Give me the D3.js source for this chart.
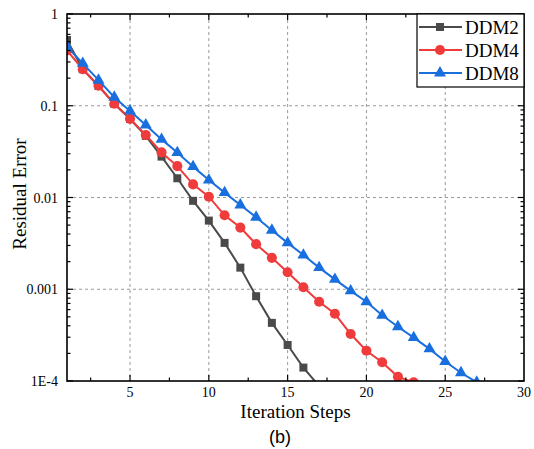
<!DOCTYPE html>
<html>
<head>
<meta charset="utf-8">
<script src="https://cdn.jsdelivr.net/npm/d3@7"></script>
<style>
  html, body { margin: 0; padding: 0; background: #fff; }
  svg { display: block; }
  text { font-family: "Liberation Serif", "Times New Roman", serif; fill: #000; }
</style>
</head>
<body>
<svg id="chart" width="534" height="449"></svg>
<script>
// Iteration steps
const steps = d3.range(1, 28);

// Residual error per iteration for each decomposition
const ddm2 = [0.52, 0.25, 0.164, 0.105, 0.0717, 0.047, 0.0279, 0.0162, 0.0092, 0.0056,
              0.0032, 0.00172, 0.00084, 0.00043, 0.000247, 0.00014, 0.000088];
const ddm4 = [0.40, 0.25, 0.165, 0.105, 0.072, 0.048, 0.031, 0.022, 0.0139, 0.0102,
              0.0064, 0.0047, 0.0031, 0.0022, 0.00153, 0.00105, 0.00073, 0.00054,
              0.000325, 0.000214, 0.00016, 0.000111, 0.000097];
const ddm8 = [0.44, 0.29, 0.19, 0.124, 0.0877, 0.0617, 0.043, 0.0309, 0.0217, 0.0155,
              0.0113, 0.0083, 0.0061, 0.0044, 0.0032, 0.00236, 0.00172, 0.00128,
              0.00096, 0.00073, 0.00052, 0.00039, 0.000297, 0.000224, 0.000163,
              0.000123, 0.000097];

const seriesNames = ["DDM2", "DDM4", "DDM8"];
const seriesColors = ["#4a4a4a", "#ef3b3b", "#1a6fdf"];
const seriesShapes = [d3.symbolSquare, d3.symbolCircle, d3.symbolTriangle];

const xTicks = [5, 10, 15, 20, 25, 30];
const xMinor = [2.5, 7.5, 12.5, 17.5, 22.5, 27.5];
const yTicks = [1e-4, 1e-3, 1e-2, 1e-1, 1];
const yTickLabels = ["1E-4", "0.001", "0.01", "0.1", "1"];

const svg = d3.select("#chart");
const pLeft = 67, pRight = 524, pTop = 14, pBottom = 381;

const x = d3.scaleLinear().domain([1, 30]).range([pLeft, pRight]);
const y = d3.scaleLog().domain([1e-4, 1]).range([pBottom, pTop]);

// Minor log ticks: 2..9 within each decade
const yMinor = [];
for (let e = -4; e < 0; e++) for (let m = 2; m <= 9; m++) yMinor.push(m * Math.pow(10, e));

// Dashed grid at major ticks
const grid = svg.append("g");
grid.selectAll(null).data(xTicks.filter(v => v < 30)).join("line")
  .attr("x1", d => x(d)).attr("x2", d => x(d))
  .attr("y1", pTop).attr("y2", pBottom)
  .attr("stroke", "#9a9a9a").attr("stroke-width", 1).attr("stroke-dasharray", "3,3");
grid.selectAll(null).data(yTicks.filter(v => v > 1e-4 && v < 1)).join("line")
  .attr("x1", pLeft).attr("x2", pRight)
  .attr("y1", d => y(d)).attr("y2", d => y(d))
  .attr("stroke", "#9a9a9a").attr("stroke-width", 1).attr("stroke-dasharray", "3,3");

// Series
svg.append("clipPath").attr("id", "plotClip")
  .append("rect").attr("x", pLeft).attr("y", pTop)
  .attr("width", pRight - pLeft).attr("height", pBottom - pTop);

const plot = svg.append("g").attr("clip-path", "url(#plotClip)");
const allSeries = [ddm2, ddm4, ddm8];
const line = d3.line().x(d => x(d.s)).y(d => y(d.v));
const symbolSizes = [64, 80, 62];

allSeries.forEach((vals, i) => {
  const pts = vals.map((v, k) => ({ s: steps[k], v }));
  plot.append("path").datum(pts)
    .attr("d", line).attr("fill", "none")
    .attr("stroke", seriesColors[i]).attr("stroke-width", 2);
  plot.selectAll(null).data(pts).join("path")
    .attr("transform", d => `translate(${x(d.s)},${y(d.v)})`)
    .attr("d", d3.symbol().type(seriesShapes[i]).size(symbolSizes[i]))
    .attr("fill", seriesColors[i]);
});

// Axes with inward ticks on all four sides
const axes = svg.append("g").attr("stroke", "#000");
const major = 6, minor = 3.5;
function tickLines(data, fn) {
  axes.selectAll(null).data(data).join("line").each(function (d) {
    const c = fn(d);
    d3.select(this).attr("x1", c[0]).attr("y1", c[1]).attr("x2", c[2]).attr("y2", c[3]);
  }).attr("stroke-width", 1.2);
}
tickLines(xTicks.filter(v => v < 30), d => [x(d), pBottom, x(d), pBottom - major]);
tickLines(xMinor, d => [x(d), pBottom, x(d), pBottom - minor]);
tickLines(xTicks.filter(v => v < 30), d => [x(d), pTop, x(d), pTop + major]);
tickLines(xMinor, d => [x(d), pTop, x(d), pTop + minor]);
tickLines(yTicks, d => [pLeft, y(d), pLeft + major, y(d)]);
tickLines(yMinor, d => [pLeft, y(d), pLeft + minor, y(d)]);
tickLines(yTicks, d => [pRight, y(d), pRight - major, y(d)]);
tickLines(yMinor, d => [pRight, y(d), pRight - minor, y(d)]);

axes.append("rect").attr("x", pLeft).attr("y", pTop)
  .attr("width", pRight - pLeft).attr("height", pBottom - pTop)
  .attr("fill", "none").attr("stroke-width", 1.6);

// Tick labels
svg.append("g").selectAll("text").data(xTicks).join("text")
  .attr("x", d => x(d)).attr("y", 397).attr("text-anchor", "middle")
  .attr("font-size", 14).text(d => d);
svg.append("g").selectAll("text").data(yTicks).join("text")
  .attr("x", 58).attr("y", d => y(d) + 5).attr("text-anchor", "end")
  .attr("font-size", 14).text((d, i) => yTickLabels[i]);

// Axis titles
svg.append("text").attr("x", (pLeft + pRight) / 2).attr("y", 418)
  .attr("text-anchor", "middle").attr("font-size", 19).text("Iteration Steps");
svg.append("text").attr("transform", "translate(26,194) rotate(-90)")
  .attr("text-anchor", "middle").attr("font-size", 19).text("Residual Error");
svg.append("text").attr("x", 280).attr("y", 443).attr("text-anchor", "middle")
  .style("font-family", "'Liberation Sans', Arial, sans-serif")
  .attr("font-size", 18).text("(b)");

// Legend
const lg = svg.append("g");
lg.append("rect").attr("x", 417).attr("y", pTop).attr("width", pRight - 417).attr("height", 73)
  .attr("fill", "#fff").attr("stroke", "#000").attr("stroke-width", 1.2);
seriesNames.forEach((name, i) => {
  const cy = 27 + i * 23;
  lg.append("line").attr("x1", 419).attr("x2", 462).attr("y1", cy).attr("y2", cy)
    .attr("stroke", seriesColors[i]).attr("stroke-width", 2);
  lg.append("path").attr("transform", `translate(440,${cy})`)
    .attr("d", d3.symbol().type(seriesShapes[i]).size(symbolSizes[i]))
    .attr("fill", seriesColors[i]);
  lg.append("text").attr("x", 465).attr("y", cy + 7).attr("font-size", 19).text(name);
});
</script>
</body>
</html>
